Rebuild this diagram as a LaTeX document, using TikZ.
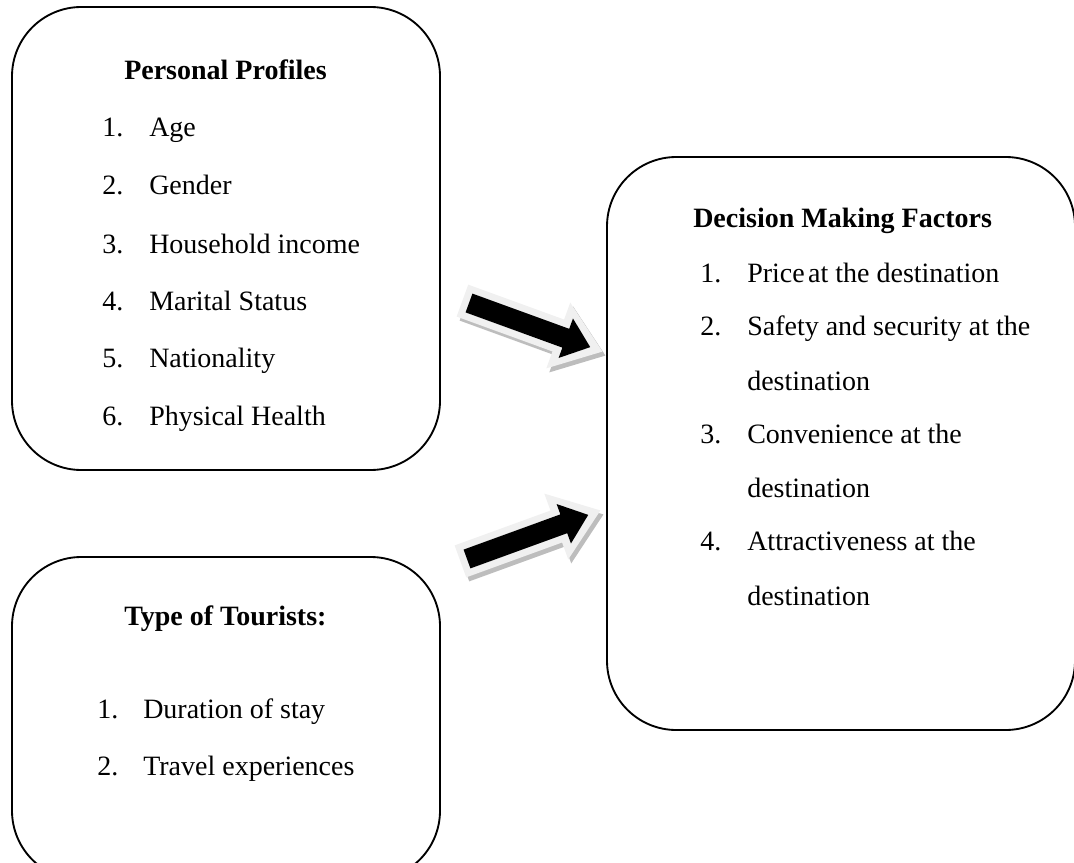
\documentclass[tikz,border=0pt]{standalone}
\usepackage{fontspec}
\setmainfont{Liberation Serif}
\definecolor{arrowlight}{HTML}{F0F0F0}
\definecolor{arrowshadow}{HTML}{BDBDBD}
\begin{document}
\begin{tikzpicture}[x={(0.75pt,0)}, y={(0,-0.75pt)},
  box/.style={draw=black, line width=1.4pt, rounded corners=52pt, inner sep=0pt, outer sep=0pt, anchor=north west},
  txt/.style={anchor=base west, inner sep=0pt, font=\fontsize{21}{25}\selectfont},
  ttl/.style={txt, font=\fontsize{21}{25}\selectfont\bfseries},
  blackpart/.style={fill=black},
  lightpart/.style={fill=arrowlight},
  shadowpart/.style={fill=arrowshadow}]
\useasboundingbox (0,0) rectangle (1074,863);
\clip (0,0) rectangle (1074,863);
% boxes
\node[box, minimum width=321pt, minimum height=347.25pt] (pp) at (12,7) {};
\node[box, minimum width=321pt, minimum height=242.25pt] (tt) at (12,557) {};
\node[box, minimum width=351pt, minimum height=429.75pt] (df) at (607,157) {};
% Personal profiles
\node[ttl] (ppt) at (124,80) {Personal Profiles};
\node[txt] (pp1n) at (102,137) {1.}; \node[txt] (pp1) at (149,137) {Age};
\node[txt] (pp2n) at (102,195) {2.}; \node[txt] (pp2) at (149,195) {Gender};
\node[txt] (pp3n) at (102,253) {3.}; \node[txt] (pp3) at (149,253) {Household income};
\node[txt] (pp4n) at (102,310) {4.}; \node[txt] (pp4) at (149,310) {Marital Status};
\node[txt] (pp5n) at (102,367) {5.}; \node[txt] (pp5) at (149,367) {Nationality};
\node[txt] (pp6n) at (102,425) {6.}; \node[txt] (pp6) at (149,425) {Physical Health};
% Type of tourists
\node[ttl] (ttt) at (124,625) {Type of Tourists:};
\node[txt] (tt1n) at (97,718) {1.}; \node[txt] (tt1) at (143,718) {Duration of stay};
\node[txt] (tt2n) at (97,775) {2.}; \node[txt] (tt2) at (143,775) {Travel experiences};
% Decision making factors
\node[ttl] (dft) at (693,227) {Decision Making Factors};
\node[txt] (df1n) at (700,282) {1.}; \node[txt] (df1) at (747,282) {Price\hspace{0.12em}at the destination};
\node[txt] (df2n) at (700,335) {2.}; \node[txt] (df2) at (747,335) {Safety and security at the};
\node[txt] (df2b) at (747,390) {destination};
\node[txt] (df3n) at (700,443) {3.}; \node[txt] (df3) at (747,443) {Convenience at the};
\node[txt] (df3b) at (747,497) {destination};
\node[txt] (df4n) at (700,550) {4.}; \node[txt] (df4) at (747,550) {Attractiveness at the};
\node[txt] (df4b) at (747,605) {destination};
% arrow 1 (Personal Profiles -> Decision Making Factors)
\begin{scope}[shift={(472,307)}, rotate=-20]
  \fill[shadowpart] (-7,-17) -- (95,-17) -- (95,-35) -- (142,0) -- (95,35) -- (95,17) -- (-7,17) -- cycle;
\end{scope}
\begin{scope}[shift={(469,303)}, rotate=-20]
  \fill[lightpart] (-7,-17) -- (95,-17) -- (95,-35) -- (142,0) -- (95,35) -- (95,17) -- (-7,17) -- cycle;
  \fill[blackpart] (0,-10) -- (103,-10) -- (103,-21) -- (129,0) -- (103,21) -- (103,10) -- (0,10) -- cycle;
\end{scope}
% arrow 2 (Type of Tourists -> Decision Making Factors)
\begin{scope}[shift={(470,563)}, rotate=20]
  \fill[shadowpart] (-7,-17) -- (95,-17) -- (95,-35) -- (142,0) -- (95,35) -- (95,17) -- (-7,17) -- cycle;
\end{scope}
\begin{scope}[shift={(467,559)}, rotate=20]
  \fill[lightpart] (-7,-17) -- (95,-17) -- (95,-35) -- (142,0) -- (95,35) -- (95,17) -- (-7,17) -- cycle;
  \fill[blackpart] (0,-10) -- (103,-10) -- (103,-21) -- (129,0) -- (103,21) -- (103,10) -- (0,10) -- cycle;
\end{scope}
\end{tikzpicture}
\end{document}
